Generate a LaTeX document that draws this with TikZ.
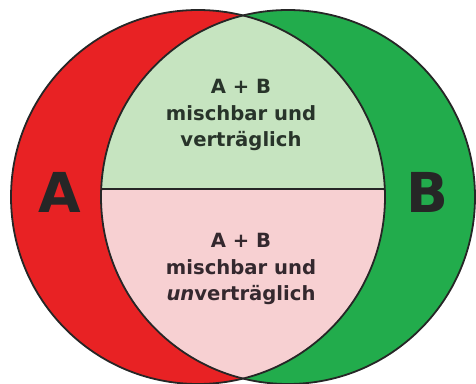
\documentclass[tikz,border=0pt]{standalone}
\usepackage{fontspec}
\setmainfont{DejaVu Sans}
\definecolor{cred}{RGB}{232,34,36}
\definecolor{cgreen}{RGB}{34,172,76}
\definecolor{clgreen}{RGB}{198,228,192}
\definecolor{cpink}{RGB}{247,208,210}
\definecolor{ctxtg}{RGB}{40,52,42}
\definecolor{ctxtp}{RGB}{52,40,46}
\tikzset{
  outline/.style={draw=black!85, line width=1.8pt},
  midtext/.style={align=center, font=\fontsize{19.6}{26.5}\selectfont\bfseries, inner sep=0pt},
  biglabel/.style={font=\fontsize{55}{60}\selectfont\bfseries, text=black!85, inner sep=0pt}
}
\begin{document}
\begin{tikzpicture}[x=1pt,y=-1pt]
\useasboundingbox (0,0) rectangle (476,383);
\clip (0,0) rectangle (476,383);
\coordinate (ca) at (198,197);
\coordinate (cb) at (288,197);
\fill[cred] (ca) circle[radius=187pt];
\fill[cgreen] (cb) circle[radius=187pt];
\begin{scope}
  \clip (ca) circle[radius=187pt];
  \clip (cb) circle[radius=187pt];
  \fill[clgreen] (0,0) rectangle (476,189);
  \fill[cpink] (0,189) rectangle (476,383);
\end{scope}
\draw[outline] (ca) circle[radius=187pt];
\draw[outline] (cb) circle[radius=187pt];
\coordinate (l1) at (101.2,189);
\coordinate (l2) at (384.8,189);
\draw[outline] (l1) -- (l2);
\node[midtext, text=ctxtg] (top) at (241,115) {A + B\\mischbar und\\verträglich};
\node[midtext, text=ctxtp] (bot) at (241,269) {A + B\\mischbar und\\\textit{un}verträglich};
\node[biglabel] (la) at (60,192) {A};
\node[biglabel] (lb) at (427,192) {B};
\end{tikzpicture}
\end{document}
